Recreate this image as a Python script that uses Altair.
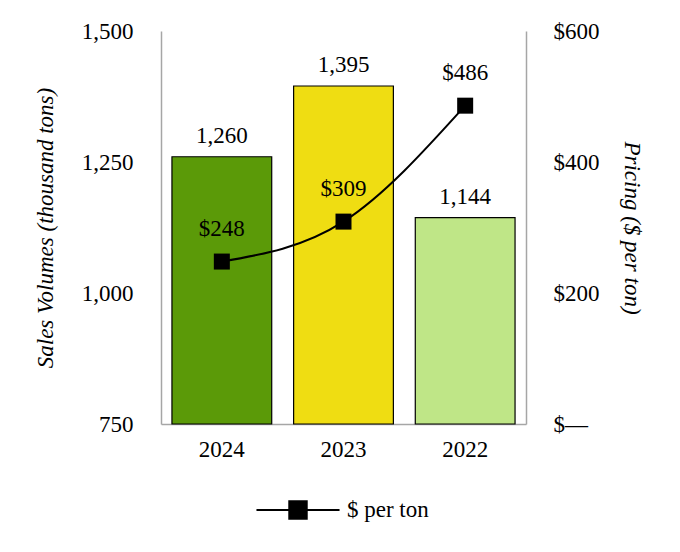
import altair as alt
import pandas as pd

years = ["2024", "2023", "2022"]
volumes = [1260, 1395, 1144]
prices = [248, 309, 486]
bar_colors = ["#5b9a08", "#efdd12", "#bfe687"]
vol_ticks = [750, 1000, 1250, 1500]
price_ticks = [0, 200, 400, 600]
series_name = "$ per ton"

df = pd.DataFrame({
    "year": years,
    "volume": volumes,
    "price": prices,
    "series": [series_name] * 3,
    "price_label": ["$" + str(p) for p in prices],
})

FONT = "Liberation Serif"
FS = 23
x_enc = alt.X("year:N", sort=years,
              scale=alt.Scale(paddingInner=0.18, paddingOuter=0.09),
              axis=alt.Axis(title=None, labelAngle=0, labelFontSize=FS, labelPadding=14,
                            ticks=False, domainColor="#a6a6a6", domainWidth=1.5,
                            labelColor="black"))

y_left = alt.Y("volume:Q",
               scale=alt.Scale(domain=[750, 1500], zero=False, nice=False),
               axis=alt.Axis(title="Sales Volumes (thousand tons)", values=vol_ticks,
                             labelExpr="format(datum.value, ',')",
                             ticks=False, grid=False, labelFontSize=FS, labelPadding=28,
                             titleFontSize=FS, titleFontStyle="italic", titleFontWeight="normal",
                             titlePadding=24, domainColor="#a6a6a6", domainWidth=1.5,
                             labelColor="black", titleColor="black"))

bars = alt.Chart(df).mark_bar(stroke="black", strokeWidth=1.2).encode(
    x=x_enc,
    y=y_left,
    y2=alt.datum(750),
    color=alt.Color("year:N", sort=years, scale=alt.Scale(domain=years, range=bar_colors), legend=None),
)
bar_text = alt.Chart(df).mark_text(baseline="middle", dy=-21, fontSize=FS, color="black").encode(
    x=alt.X("year:N", sort=years),
    y=alt.Y("volume:Q"),
    text=alt.Text("volume:Q", format=",d"),
)
left = alt.layer(bars, bar_text)

y_right = alt.Y("price:Q",
                scale=alt.Scale(domain=[0, 600], nice=False),
                axis=alt.Axis(title="Pricing ($ per ton)", orient="right", values=price_ticks,
                              labelExpr="datum.value == 0 ? '$—' : '$' + datum.value",
                              ticks=False, grid=False, labelFontSize=FS, labelPadding=27,
                              titleFontSize=FS, titleFontStyle="italic", titleFontWeight="normal",
                              titlePadding=20, domainColor="#a6a6a6", domainWidth=1.5,
                              labelColor="black", titleColor="black"))

legend_path = "M-1,0H1M-0.21,-0.21H0.21V0.21H-0.21Z"
line = alt.Chart(df).mark_line(interpolate="monotone", strokeWidth=2).encode(
    x=alt.X("year:N", sort=years),
    y=y_right,
    color=alt.Color("series:N", scale=alt.Scale(domain=[series_name], range=["black"]),
                    legend=alt.Legend(title=None, orient="none", legendX=94, legendY=436,
                                      symbolType=legend_path,
                                      symbolSize=6900, symbolStrokeWidth=2,
                                      symbolFillColor="black", labelFontSize=FS,
                                      labelOffset=6, labelColor="black")),
)
squares = alt.Chart(df).mark_square(size=256, filled=True, color="black", opacity=1).encode(
    x=alt.X("year:N", sort=years),
    y=alt.Y("price:Q"),
)
price_text = alt.Chart(df).mark_text(baseline="middle", dy=-33, fontSize=FS, color="black").encode(
    x=alt.X("year:N", sort=years),
    y=alt.Y("price:Q"),
    text="price_label:N",
)
right = alt.layer(line, squares, price_text)

chart = alt.layer(left, right).resolve_scale(y="independent", color="independent").properties(
    width=365, height=393,
    padding={"left": 26, "top": 12, "right": 5, "bottom": 5},
).configure(font=FONT).configure_view(stroke=None)

chart.save("out.html", embed_options={"renderer": "svg", "actions": False})
